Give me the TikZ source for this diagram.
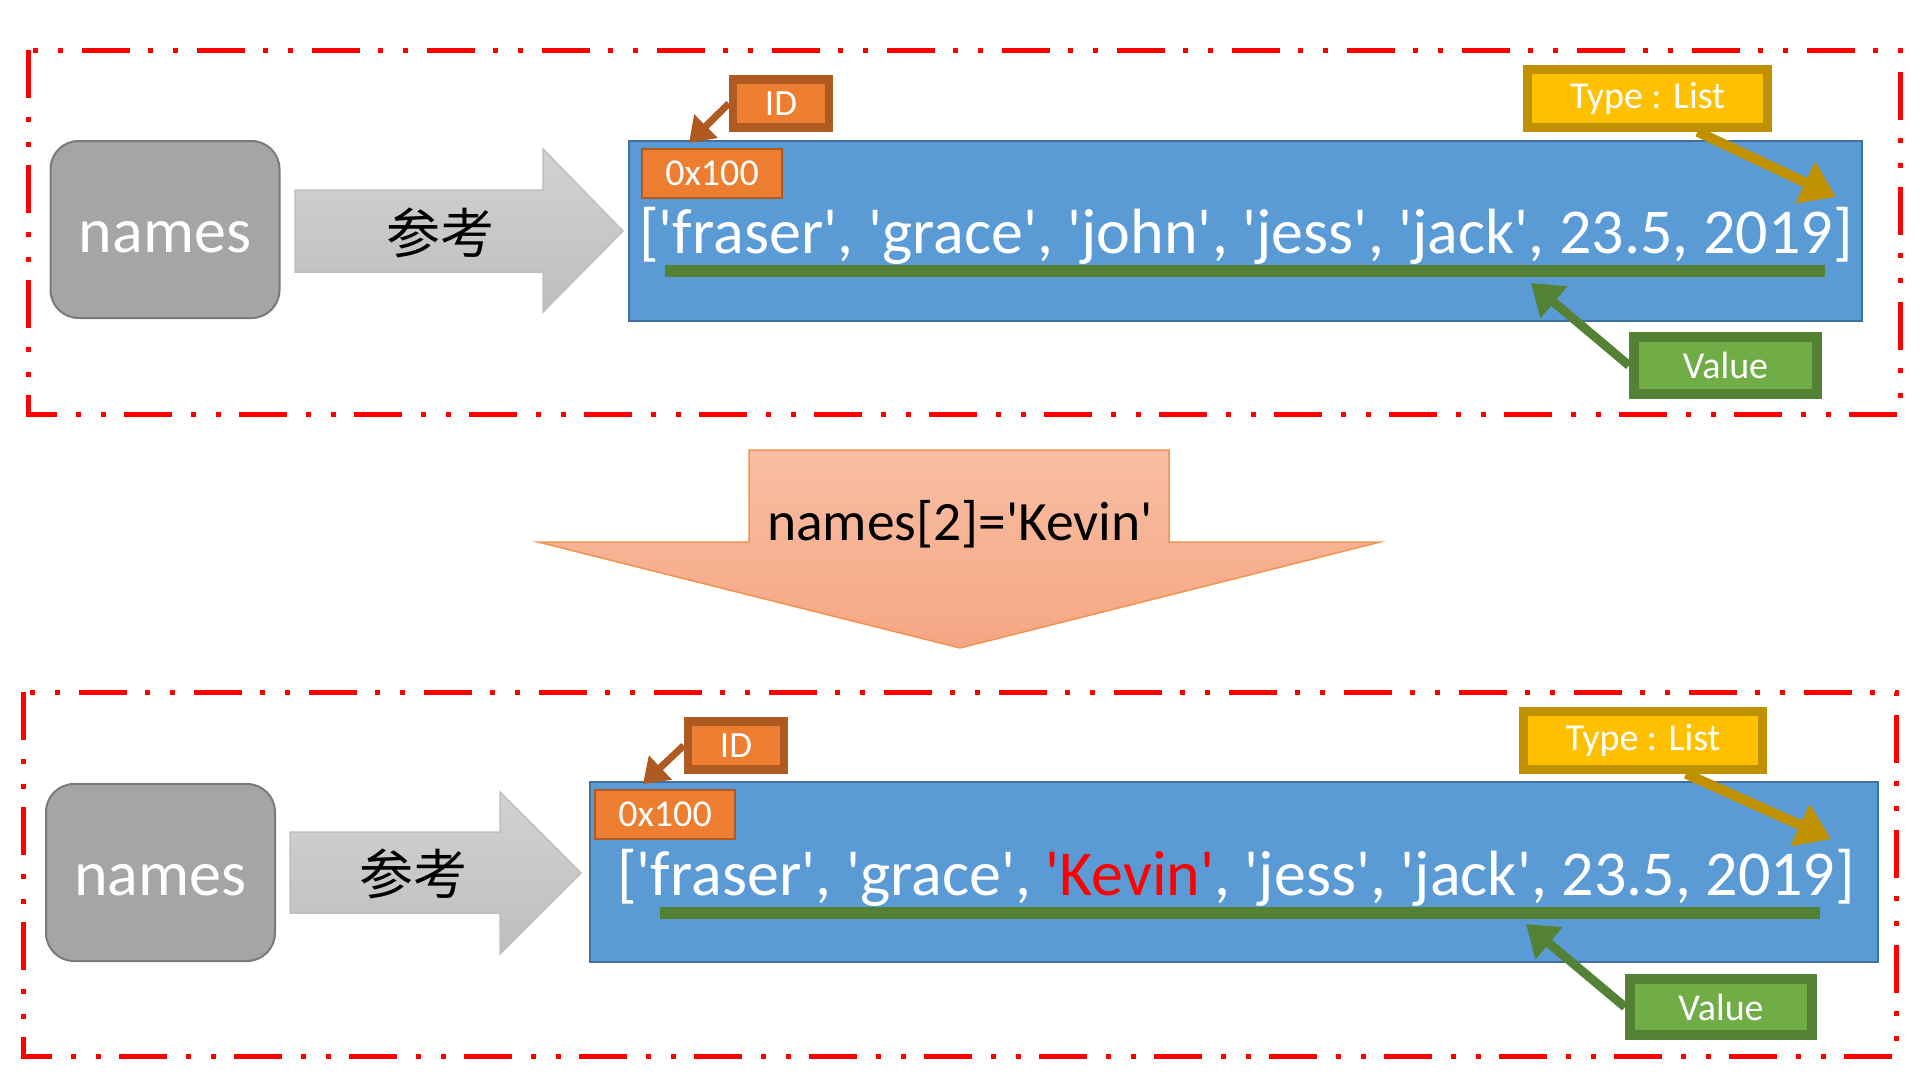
\documentclass[tikz,border=0pt]{standalone}
\usepackage{fontspec}
\setmainfont{Carlito}[Ligatures=TeXOff]
\newfontfamily\cjk{Noto Sans CJK TC}
\usetikzlibrary{arrows.meta, positioning, calc}

\definecolor{framered}{HTML}{FF0000}
\definecolor{vargray}{HTML}{A5A5A5}
\definecolor{vargrayline}{HTML}{7A7A7A}
\definecolor{reftop}{HTML}{D2D2D2}
\definecolor{refbottom}{HTML}{BEBEBE}
\definecolor{objblue}{HTML}{5B9BD5}
\definecolor{objblueline}{HTML}{41719C}
\definecolor{idorange}{HTML}{ED7D31}
\definecolor{idorangeline}{HTML}{AE5A21}
\definecolor{typegold}{HTML}{FFC000}
\definecolor{typegoldline}{HTML}{BF9000}
\definecolor{valgreen}{HTML}{70AD47}
\definecolor{valgreenline}{HTML}{548235}
\definecolor{assigntop}{HTML}{F8BEA3}
\definecolor{assignbottom}{HTML}{F5A683}
\definecolor{assignline}{HTML}{F2934F}

\begin{document}
\begin{tikzpicture} [
    x=1pt, y=-1pt,
    frame/.style={draw=framered, line width=5pt, dash pattern=on 48pt off 19pt on 5pt off 20pt on 5pt off 18pt},
    varbox/.style={rectangle, draw=vargrayline, line width=2pt, fill=vargray, minimum width=229pt, minimum height=177pt, rounded corners=28pt, text=white, text height=46pt, text depth=0pt, font=\fontsize{64}{70}\selectfont},
    refshape/.style={draw=black!25, line width=1.5pt, top color=reftop, bottom color=refbottom},
    reftext/.style={font=\cjk\fontsize{54}{60}\selectfont, inner sep=0pt},
    objbox/.style={rectangle, draw=objblueline, line width=2pt, fill=objblue, minimum height=180pt},
    listtext/.style={anchor=base west, inner sep=0pt, text=white, font=\fontsize{64}{70}\selectfont},
    addr/.style={rectangle, draw=idorangeline, line width=2pt, fill=idorange, minimum width=140pt, minimum height=49pt, inner sep=0pt, text=white, font=\fontsize{38}{40}\selectfont},
    tag/.style={rectangle, line width=8.5pt, minimum height=48pt, inner sep=0pt, text=white, font=\fontsize{37}{40}\selectfont},
    idtag/.style={tag, draw=idorangeline, fill=idorange, minimum width=96pt},
    typetag/.style={tag, draw=typegoldline, fill=typegold, minimum width=240pt, minimum height=58pt, font=\fontsize{38}{40}\selectfont},
    valtag/.style={tag, line width=10pt, draw=valgreenline, fill=valgreen, minimum width=183pt, minimum height=57pt, font=\fontsize{38}{40}\selectfont},
    underline/.style={draw=valgreenline, line width=12pt},
    arrow/.style={line width=7pt, -{Triangle[length=24pt, width=32pt]}}
]
\useasboundingbox (0,0) rectangle (1920,1080);

% LAYER 1: frames and big arrows
\draw[frame] (28,50) rectangle (1900,414);
\draw[frame] (23,692) rectangle (1896,1056);

\draw[refshape] (295,190) -- (543,190) -- (543,149) -- (623,231) -- (543,312) -- (543,272) -- (295,272) -- cycle;
\draw[refshape] (290,832) -- (500,832) -- (500,792) -- (581,873) -- (500,954) -- (500,913) -- (290,913) -- cycle;

\draw[draw=assignline, line width=1.5pt, top color=assigntop, bottom color=assignbottom]
    (749,450) -- (1169,450) -- (1169,542) -- (1380,542) -- (960,648) -- (538,542) -- (749,542) -- cycle;
\node[anchor=base, inner sep=0pt, font=\fontsize{55.5}{60}\selectfont] (assign) at (960,540) {names[2]='Kevin'};

% LAYER 2: before the assignment
\node[varbox] (names1) at (165,229.5) {names};
\node[reftext] (ref1) at (440,233) {参考};
\node[objbox, minimum width=1233pt] (obj1) at (1245.5,230.5) {};
\node[listtext] (list1) at (639,253) {['fraser', 'grace', 'john', 'jess', 'jack', 23.5, 2019]};
\coordinate (ul1a) at (665,271);
\coordinate (ul1b) at (1825,271);
\draw[underline] (ul1a) -- (ul1b);
\node[addr] (addr1) at (712,173) {0x100};
\node[idtag] (id1) at (781,103.5) {ID};
\node[typetag] (type1) at (1647.5,98.5) {Type : List};
\node[valtag] (val1) at (1725.5,365.5) {Value};

\coordinate (id1tip) at (689,143);
\coordinate (type1tip) at (1836,197);
\coordinate (val1tip) at (1531,283);
\draw[arrow, idorangeline] (id1.west) -- (id1tip);
\draw[arrow, typegoldline, line width=10pt, -{Triangle[length=34pt, width=44pt]}] ([xshift=50pt]type1.south) -- (type1tip);
\draw[arrow, valgreenline, line width=9pt, -{Triangle[length=30pt, width=40pt]}] (val1.west) -- (val1tip);

% LAYER 3: after the assignment
\node[varbox] (names2) at (160.5,872.5) {names};
\node[reftext] (ref2) at (413,874) {参考};
\node[objbox, minimum width=1288pt] (obj2) at (1234,872) {};
\node[listtext] (list2) at (617,895) {['fraser', 'grace', \textcolor{framered}{'Kevin'}, 'jess', 'jack', 23.5, 2019]};
\coordinate (ul2a) at (660,913);
\coordinate (ul2b) at (1820,913);
\draw[underline] (ul2a) -- (ul2b);
\node[addr] (addr2) at (665,814.5) {0x100};
\node[idtag] (id2) at (736,745.5) {ID};
\node[typetag, minimum width=239pt] (type2) at (1643,740.5) {Type : List};
\node[valtag, minimum width=182pt, minimum height=56pt] (val2) at (1721,1007) {Value};

\coordinate (id2tip) at (643,784);
\coordinate (type2tip) at (1831,839);
\coordinate (val2tip) at (1526,924);
\draw[arrow, idorangeline] (id2.west) -- (id2tip);
\draw[arrow, typegoldline, line width=10pt, -{Triangle[length=34pt, width=44pt]}] ([xshift=43pt]type2.south) -- (type2tip);
\draw[arrow, valgreenline, line width=9pt, -{Triangle[length=30pt, width=40pt]}] (val2.west) -- (val2tip);

\end{tikzpicture}
\end{document}
